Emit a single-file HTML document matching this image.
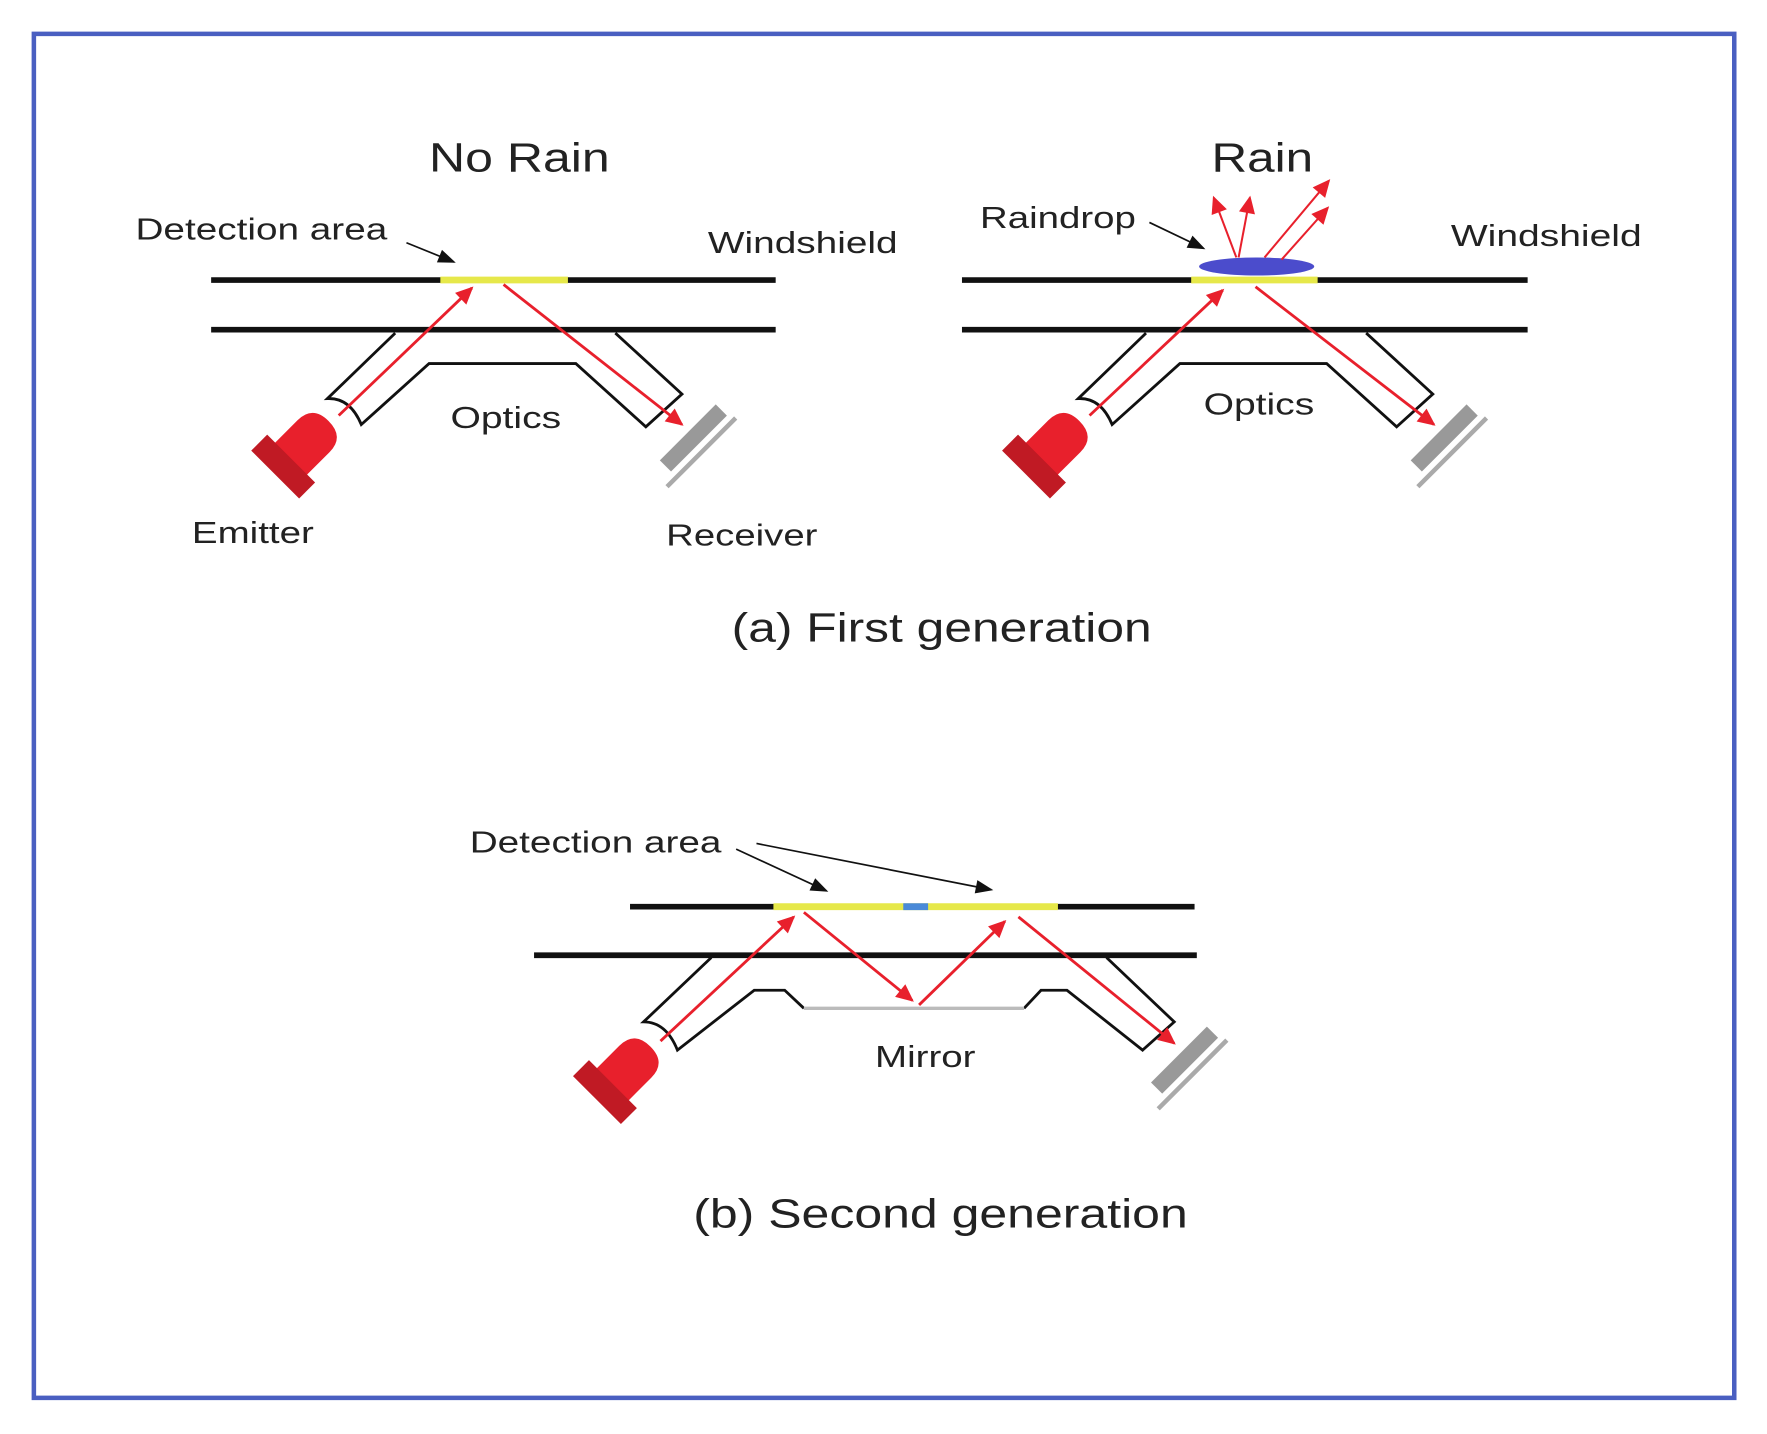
<!DOCTYPE html>
<html><head><meta charset="utf-8"><style>
html,body{margin:0;padding:0;background:#fff;}
svg{display:block;}
text{font-family:"Liberation Sans",sans-serif;fill:#222;}
</style></head><body>
<svg width="1767" height="1434" viewBox="0 0 1565 1270" preserveAspectRatio="none" xmlns="http://www.w3.org/2000/svg">
<defs>
<marker id="ra" viewBox="0 0 10 10" refX="9" refY="5" markerWidth="6" markerHeight="6" orient="auto" markerUnits="userSpaceOnUse" style="overflow:visible">
<path d="M-14,-7 L12,5 L-14,17 Z" fill="#e8202c"/>
</marker>
<marker id="ba" viewBox="0 0 10 10" refX="9" refY="5" markerWidth="6" markerHeight="6" orient="auto" markerUnits="userSpaceOnUse" style="overflow:visible">
<path d="M-14,-5 L12,5 L-14,15 Z" fill="#111"/>
</marker>
<g id="emit">
<path d="M-22,-20 L8,-20 Q27,-20 27,0 Q27,20 8,20 L-22,20 Z" fill="#e8202c"/>
<rect x="-40" y="-30" width="20" height="60" fill="#c01a24"/>
</g>
<g id="recv">
<rect x="-7" y="-38" width="14" height="70" fill="#999"/>
<rect x="12" y="-42" width="4" height="86" fill="#aaa"/>
</g>
</defs>
<rect x="30" y="30" width="1506" height="1208" fill="none" stroke="#4a5fc1" stroke-width="4"/>

<!-- Panel 1 -->
<text x="380" y="152" font-size="36" textLength="160" lengthAdjust="spacingAndGlyphs">No Rain</text>
<text x="120" y="212" font-size="27" textLength="223" lengthAdjust="spacingAndGlyphs">Detection area</text>
<line x1="360" y1="215" x2="402" y2="232" stroke="#111" stroke-width="1.5" marker-end="url(#ba)"/>
<text x="627" y="224" font-size="27" textLength="168" lengthAdjust="spacingAndGlyphs">Windshield</text>
<line x1="187" y1="248" x2="687" y2="248" stroke="#111" stroke-width="5"/>
<line x1="390" y1="248" x2="503" y2="248" stroke="#e6e84a" stroke-width="6"/>
<line x1="187" y1="292" x2="687" y2="292" stroke="#111" stroke-width="5"/>
<path d="M350,295 L290,353 Q310,352 320,376 L380,322 L510,322 L572,378 L604,349 L545,295" fill="none" stroke="#111" stroke-width="2.5"/>
<line x1="300" y1="368" x2="418" y2="255" stroke="#e8202c" stroke-width="2.5" marker-end="url(#ra)"/>
<line x1="446" y1="252" x2="604" y2="376" stroke="#e8202c" stroke-width="2.5" marker-end="url(#ra)"/>
<use href="#emit" transform="translate(272,392) rotate(-45)"/>
<use href="#recv" transform="translate(612,390) rotate(45)"/>
<text x="399" y="379" font-size="27" textLength="98" lengthAdjust="spacingAndGlyphs">Optics</text>
<text x="170" y="481" font-size="27" textLength="108" lengthAdjust="spacingAndGlyphs">Emitter</text>
<text x="590" y="483" font-size="27" textLength="134" lengthAdjust="spacingAndGlyphs">Receiver</text>

<!-- Panel 2 -->
<text x="1073" y="152" font-size="36" textLength="90" lengthAdjust="spacingAndGlyphs">Rain</text>
<text x="868" y="202" font-size="27" textLength="138" lengthAdjust="spacingAndGlyphs">Raindrop</text>
<line x1="1018" y1="197" x2="1066" y2="220" stroke="#111" stroke-width="1.5" marker-end="url(#ba)"/>
<text x="1285" y="218" font-size="27" textLength="169" lengthAdjust="spacingAndGlyphs">Windshield</text>
<line x1="852" y1="248" x2="1353" y2="248" stroke="#111" stroke-width="5"/>
<line x1="1055" y1="248" x2="1167" y2="248" stroke="#e6e84a" stroke-width="6"/>
<ellipse cx="1113" cy="236" rx="51" ry="8" fill="#4b4ccc"/>
<line x1="852" y1="292" x2="1353" y2="292" stroke="#111" stroke-width="5"/>
<line x1="1095" y1="228" x2="1075" y2="175" stroke="#e8202c" stroke-width="1.8" marker-end="url(#ra)"/>
<line x1="1097" y1="228" x2="1107" y2="175" stroke="#e8202c" stroke-width="1.8" marker-end="url(#ra)"/>
<line x1="1120" y1="228" x2="1177" y2="160" stroke="#e8202c" stroke-width="1.8" marker-end="url(#ra)"/>
<line x1="1135" y1="230" x2="1176" y2="184" stroke="#e8202c" stroke-width="1.8" marker-end="url(#ra)"/>
<path d="M1015,295 L955,353 Q975,352 985,376 L1045,322 L1175,322 L1237,378 L1269,349 L1210,295" fill="none" stroke="#111" stroke-width="2.5"/>
<line x1="965" y1="368" x2="1083" y2="257" stroke="#e8202c" stroke-width="2.5" marker-end="url(#ra)"/>
<line x1="1112" y1="254" x2="1270" y2="376" stroke="#e8202c" stroke-width="2.5" marker-end="url(#ra)"/>
<use href="#emit" transform="translate(937,392) rotate(-45)"/>
<use href="#recv" transform="translate(1277,390) rotate(45)"/>
<text x="1066" y="367" font-size="27" textLength="98" lengthAdjust="spacingAndGlyphs">Optics</text>

<text x="648" y="568" font-size="36" textLength="372" lengthAdjust="spacingAndGlyphs">(a) First generation</text>

<!-- Panel 3 -->
<text x="416" y="755" font-size="27" textLength="223" lengthAdjust="spacingAndGlyphs">Detection area</text>
<line x1="652" y1="752" x2="732" y2="789" stroke="#111" stroke-width="1.5" marker-end="url(#ba)"/>
<line x1="670" y1="747" x2="878" y2="788" stroke="#111" stroke-width="1.5" marker-end="url(#ba)"/>
<line x1="558" y1="803" x2="1058" y2="803" stroke="#111" stroke-width="5"/>
<line x1="685" y1="803" x2="937" y2="803" stroke="#e6e84a" stroke-width="6"/>
<line x1="800" y1="803" x2="822" y2="803" stroke="#4a8ad8" stroke-width="6"/>
<line x1="473" y1="846" x2="1060" y2="846" stroke="#111" stroke-width="5"/>
<path d="M630,848 L570,905 Q590,905 600,930 L668,877 L695,877 L712,893 M907,893 L922,877 L945,877 L1012,930 L1040,905 L980,848" fill="none" stroke="#111" stroke-width="2.5"/>
<line x1="712" y1="893" x2="907" y2="893" stroke="#bbb" stroke-width="3"/>
<line x1="585" y1="922" x2="703" y2="812" stroke="#e8202c" stroke-width="2.5" marker-end="url(#ra)"/>
<line x1="712" y1="808" x2="808" y2="886" stroke="#e8202c" stroke-width="2.5" marker-end="url(#ra)"/>
<line x1="814" y1="890" x2="890" y2="816" stroke="#e8202c" stroke-width="2.5" marker-end="url(#ra)"/>
<line x1="902" y1="812" x2="1040" y2="924" stroke="#e8202c" stroke-width="2.5" marker-end="url(#ra)"/>
<use href="#emit" transform="translate(557,946) rotate(-45)"/>
<use href="#recv" transform="translate(1047,941) rotate(45)"/>
<text x="775" y="945" font-size="27" textLength="89" lengthAdjust="spacingAndGlyphs">Mirror</text>

<text x="614" y="1087" font-size="36" textLength="438" lengthAdjust="spacingAndGlyphs">(b) Second generation</text>
</svg>
</body></html>
